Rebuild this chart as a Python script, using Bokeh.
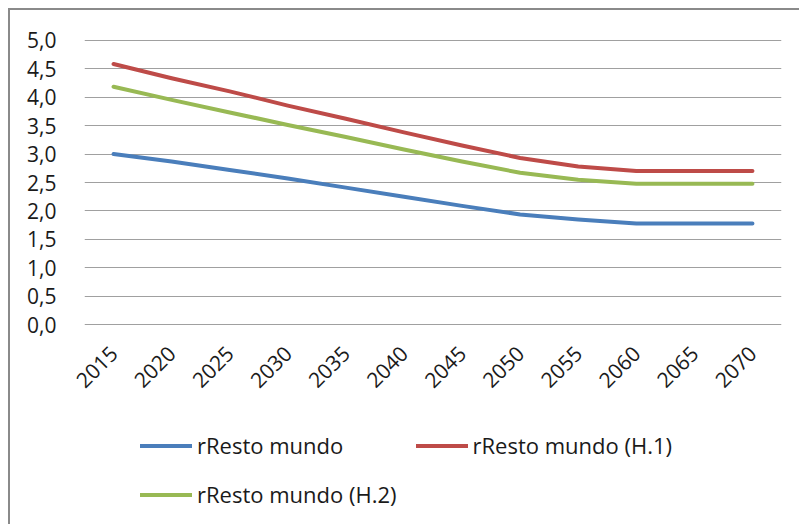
from bokeh.plotting import figure
from bokeh.layouts import column
from bokeh.models import Range1d, FactorRange, CustomJSTickFormatter, Legend, LegendItem, FixedTicker
from bokeh.embed import file_html
from bokeh.resources import INLINE
from math import pi

years = ["2015", "2020", "2025", "2030", "2035", "2040", "2045", "2050", "2055", "2060", "2065", "2070"]
base = [3.00, 2.87, 2.72, 2.57, 2.41, 2.25, 2.09, 1.94, 1.85, 1.78, 1.78, 1.78]
h1 = [4.58, 4.33, 4.10, 3.85, 3.62, 3.38, 3.15, 2.93, 2.78, 2.70, 2.70, 2.70]
h2 = [4.18, 3.95, 3.73, 3.51, 3.30, 3.08, 2.87, 2.67, 2.55, 2.48, 2.48, 2.48]
names = ["rResto mundo", "rResto mundo (H.1)", "rResto mundo (H.2)"]
y_ticks = [0, 0.5, 1, 1.5, 2, 2.5, 3, 3.5, 4, 4.5, 5]

FONT = "Open Sans"
colors = ["#4A7EBB", "#BE4B48", "#98B954"]
BORDER = "2px solid #8a8a8a"
NAN = float("nan")

p = figure(width=791, height=392, x_range=FactorRange(*years), y_range=Range1d(-0.01, 5.01),
           output_backend="svg", toolbar_location=None,
           min_border_left=74, min_border_right=20, min_border_top=29, min_border_bottom=77)
p.outline_line_color = None
p.styles = {"border-top": BORDER, "border-left": BORDER}

p.xgrid.grid_line_color = None
p.ygrid.grid_line_color = "#a0a0a0"
p.ygrid.grid_line_width = 1.2
p.yaxis.ticker = FixedTicker(ticks=y_ticks)
p.yaxis.formatter = CustomJSTickFormatter(code="return tick.toFixed(1).replace('.', ',');")
for ax in (p.xaxis, p.yaxis):
    ax.axis_line_color = None
    ax.major_tick_line_color = None
    ax.minor_tick_line_color = None
    ax.major_label_text_font = FONT
    ax.major_label_text_font_size = "21px"
    ax.major_label_text_color = "#1a1a1a"
p.yaxis.major_label_standoff = 22
p.xaxis.major_label_orientation = pi / 4
p.xaxis.major_label_standoff = 18

for vals, c in zip([base, h1, h2], colors):
    p.line(years, vals, line_color=c, line_width=4, line_cap="round", line_join="round")

# legend panel (separate strip so the legend is not clipped by the chart frame)
p2 = figure(width=791, height=124, output_backend="svg", toolbar_location=None,
            x_range=Range1d(0, 1), y_range=Range1d(0, 1),
            x_axis_location=None, y_axis_location=None,
            min_border_left=0, min_border_right=0, min_border_top=0, min_border_bottom=0)
p2.outline_line_color = None
p2.grid.grid_line_color = None
p2.styles = {"border-left": BORDER}
dummies = [p2.line([NAN], [NAN], line_color=c, line_width=4, line_cap="round") for c in colors]

legend = Legend(items=[LegendItem(label=n, renderers=[r]) for n, r in zip(names, dummies)],
                location=(56, 15), orientation="horizontal", ncols=2,
                padding=0, spacing=19, margin=0, border_line_color=None, background_fill_alpha=0,
                glyph_width=52, glyph_height=29, label_height=29, label_standoff=5,
                label_text_font=FONT, label_text_font_size="22px", label_text_color="#1a1a1a")
p2.add_layout(legend, "center")

layout = column(p, p2, spacing=0)
layout.styles = {"margin-left": "8px", "margin-top": "8px"}

open("out.html", "w").write(file_html(layout, INLINE))
